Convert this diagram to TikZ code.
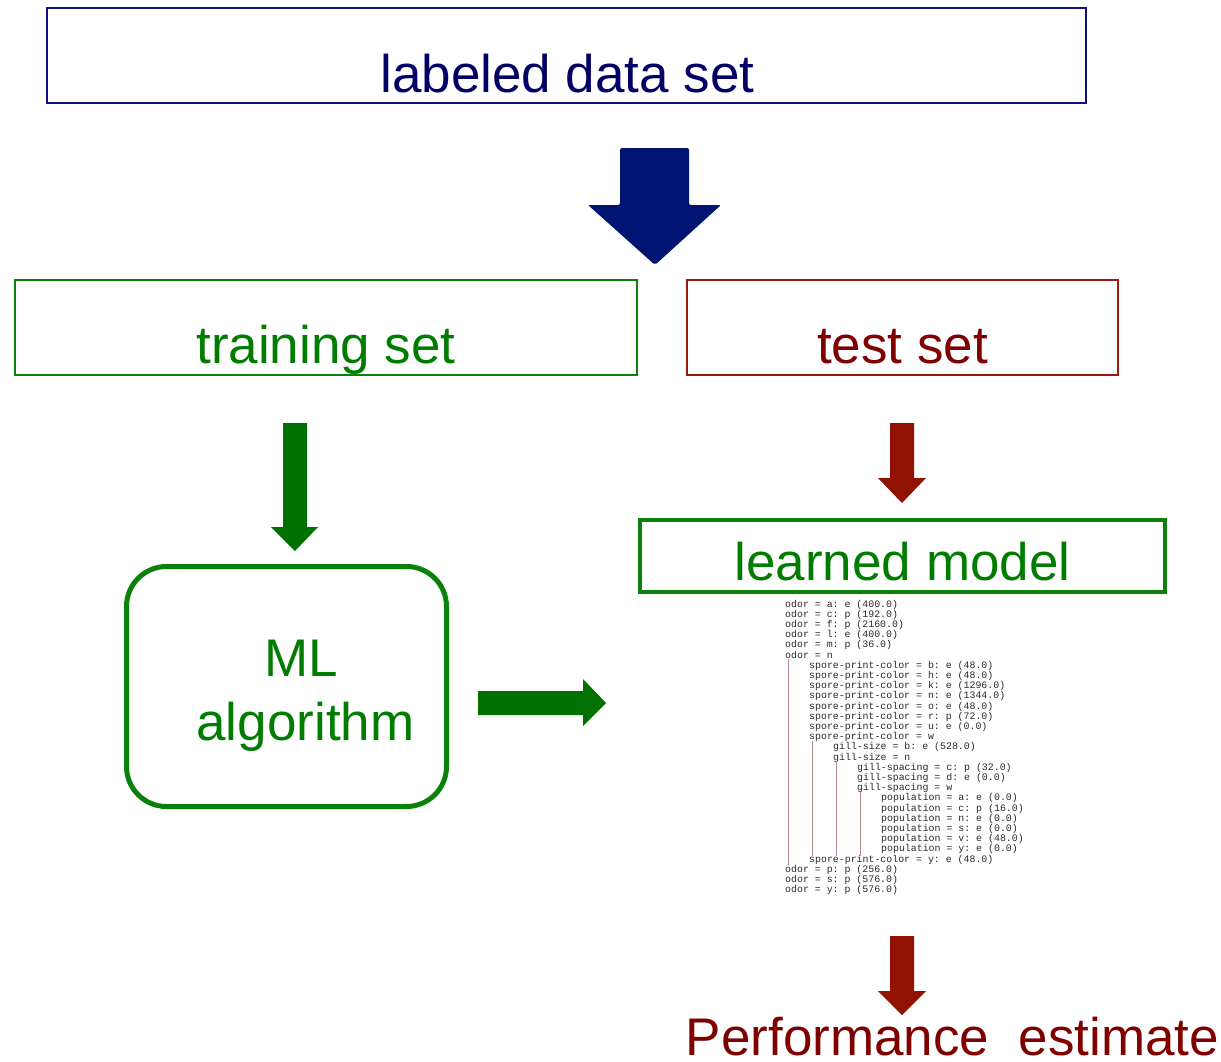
\documentclass[tikz,border=0pt]{standalone}
\usepackage{fontspec}
\setmainfont{Liberation Sans}
\setmonofont{Liberation Mono}
\definecolor{navytext}{RGB}{0,0,102}
\definecolor{navybox}{RGB}{16,16,128}
\definecolor{navyarrow}{RGB}{0,20,115}
\definecolor{greenbox}{RGB}{10,130,10}
\definecolor{greentext}{RGB}{0,125,0}
\definecolor{greenarrow}{RGB}{0,112,0}
\definecolor{redbox}{RGB}{155,25,15}
\definecolor{redtext}{RGB}{128,0,0}
\definecolor{redarrow}{RGB}{145,18,0}
\definecolor{treegray}{RGB}{40,40,40}
\definecolor{treeline}{RGB}{190,140,140}
\begin{document}
\begin{tikzpicture}[x=1pt,y=-1pt,
  box/.style={draw, rectangle, inner sep=0pt},
  big/.style={font=\fontsize{53}{60}\selectfont, inner sep=0pt, anchor=base},
  treetxt/.style={font=\fontsize{9.9}{10.2}\selectfont\ttfamily, inner sep=0pt, anchor=base west, text=treegray},
  tline/.style={draw=treeline, line width=0.8pt}]
\useasboundingbox (0,0) rectangle (1221,1061);

% boxes
\node[box, draw=navybox, line width=2pt, minimum width=1039pt, minimum height=95pt] (lds) at (566.5,55.5) {};
\node[box, draw=greenbox, line width=2pt, minimum width=622pt, minimum height=95pt] (train) at (326,327.5) {};
\node[box, draw=redbox, line width=2pt, minimum width=431pt, minimum height=95pt] (test) at (902.5,327.5) {};
\node[box, draw=greenbox, line width=4pt, minimum width=525pt, minimum height=72pt] (model) at (902.5,556) {};
\node[box, draw=greenbox, line width=5pt, rounded corners=40pt, minimum width=320pt, minimum height=240pt] (ml) at (286.5,686.5) {};

% texts
\node[big, text=navytext] (ldst) at (567.5,92) {labeled data set};
\node[big, text=greentext] (traint) at (326,363) {training set};
\node[big, text=redtext] (testt) at (902.5,363) {test set};
\node[big, text=greentext] (modelt) at (902.5,580) {learned model};
\node[big, text=greentext] (mlt1) at (301,676) {ML};
\node[big, text=greentext] (mlt2) at (305.5,740) {algorithm};
\node[big, text=redtext] (perf) at (952.5,1055) {Performance~ estimate};

% block arrows
\fill[navyarrow, rounded corners=2pt] (620,148) -- (689,148) -- (689,205) -- (721,205) -- (655,265) -- (588,205) -- (620,205) -- cycle;
\fill[greenarrow] (283,423) -- (307,423) -- (307,527) -- (318,527) -- (295,551) -- (271,527) -- (283,527) -- cycle;
\fill[greenarrow] (478,691) -- (583,691) -- (583,679) -- (606,703) -- (583,726) -- (583,715) -- (478,715) -- cycle;
\fill[redarrow] (890,423) -- (914,423) -- (914,478) -- (926,478) -- (902,503) -- (878,478) -- (890,478) -- cycle;
\fill[redarrow] (890,936) -- (914,936) -- (914,991) -- (926,991) -- (902,1015) -- (878,991) -- (890,991) -- cycle;

% tree
\foreach \lev/\txt [count=\k from 0] in {
  0/{odor = a: e (400.0)},
  0/{odor = c: p (192.0)},
  0/{odor = f: p (2160.0)},
  0/{odor = l: e (400.0)},
  0/{odor = m: p (36.0)},
  0/{odor = n},
  1/{spore-print-color = b: e (48.0)},
  1/{spore-print-color = h: e (48.0)},
  1/{spore-print-color = k: e (1296.0)},
  1/{spore-print-color = n: e (1344.0)},
  1/{spore-print-color = o: e (48.0)},
  1/{spore-print-color = r: p (72.0)},
  1/{spore-print-color = u: e (0.0)},
  1/{spore-print-color = w},
  2/{gill-size = b: e (528.0)},
  2/{gill-size = n},
  3/{gill-spacing = c: p (32.0)},
  3/{gill-spacing = d: e (0.0)},
  3/{gill-spacing = w},
  4/{population = a: e (0.0)},
  4/{population = c: p (16.0)},
  4/{population = n: e (0.0)},
  4/{population = s: e (0.0)},
  4/{population = v: e (48.0)},
  4/{population = y: e (0.0)},
  1/{spore-print-color = y: e (48.0)},
  0/{odor = p: p (256.0)},
  0/{odor = s: p (576.0)},
  0/{odor = y: p (576.0)}}
  {\node[treetxt] (t\k) at ({785+24*\lev}, {607+10.2*\k}) {\txt};}

\draw[tline] (788,659) -- (788,865);
\draw[tline] (812,741) -- (812,856);
\draw[tline] (836,761) -- (836,856);
\draw[tline] (860,792) -- (860,856);
\end{tikzpicture}
\end{document}
